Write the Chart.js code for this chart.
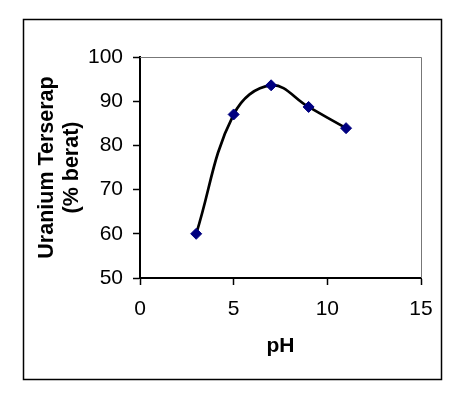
<!DOCTYPE html>
<html>
<head>
<meta charset="utf-8">
<script src="https://cdn.jsdelivr.net/npm/chart.js@4"></script>
<style>
html,body{margin:0;padding:0;background:#fff;}
#c{display:block;}
</style>
</head>
<body>
<canvas id="c" width="464" height="400"></canvas>
<script>
const phValues = [3, 5, 7, 9, 11];
const uraniumAdsorbed = [60, 87, 93.6, 88.7, 83.9];
const xTicks = [0, 5, 10, 15];
const yTicks = [50, 60, 70, 80, 90, 100];
const xTitle = 'pH';
const yTitle = ['Uranium Terserap', '(% berat)'];

const FONT = 'Arial, "Liberation Sans", sans-serif';

const framePlugin = {
  id: 'frame',
  beforeDraw(chart) {
    const ctx = chart.ctx;
    ctx.save();
    ctx.fillStyle = '#fff';
    ctx.fillRect(0, 0, chart.width, chart.height);
    ctx.restore();
  },
  afterDraw(chart) {
    const ctx = chart.ctx;
    const a = chart.chartArea;
    ctx.save();
    ctx.strokeStyle = '#000';
    ctx.lineWidth = 1.5;
    ctx.strokeRect(23.5, 19.5, 418, 360);
    ctx.strokeStyle = '#777';
    ctx.lineWidth = 1;
    ctx.beginPath();
    ctx.moveTo(a.left, a.top + 0.5);
    ctx.lineTo(a.right + 0.5, a.top + 0.5);
    ctx.lineTo(a.right + 0.5, a.bottom);
    ctx.stroke();
    ctx.restore();
  }
};

new Chart(document.getElementById('c'), {
  type: 'line',
  data: {
    datasets: [{
      data: phValues.map((x, i) => ({x: x, y: uraniumAdsorbed[i]})),
      borderColor: '#000',
      borderWidth: 2.7,
      tension: 0.4,
      pointStyle: 'rectRot',
      pointRadius: 5.5,
      pointBackgroundColor: '#000080',
      pointBorderColor: '#000080',
      pointBorderWidth: 1,
      fill: false
    }]
  },
  options: {
    responsive: false,
    animation: false,
    devicePixelRatio: 1,
    layout: {padding: {left: 0, top: 57, right: 43, bottom: 0}},
    plugins: {legend: {display: false}, tooltip: {enabled: false}},
    scales: {
      x: {
        type: 'linear',
        min: 0, max: 15,
        afterBuildTicks(s) { s.ticks = xTicks.map(v => ({value: v})); },
        afterFit(s) { s.height = 122; },
        grid: {drawOnChartArea: false, drawTicks: true, tickLength: 7, tickColor: '#000', tickWidth: 1.5},
        border: {display: true, color: '#000', width: 2},
        ticks: {color: '#000', font: {family: FONT, size: 21}, padding: 12, maxRotation: 0},
        title: {display: true, text: xTitle, color: '#000', font: {family: FONT, size: 21, weight: 'bold', lineHeight: 1.2}, padding: {top: 0, bottom: 41}}
      },
      y: {
        type: 'linear',
        min: 50, max: 100,
        afterBuildTicks(s) { s.ticks = yTicks.map(v => ({value: v})); },
        afterFit(s) { s.width = 140; },
        grid: {drawOnChartArea: false, drawTicks: true, tickLength: 7, tickColor: '#000', tickWidth: 1.5},
        border: {display: true, color: '#000', width: 2},
        ticks: {color: '#000', font: {family: FONT, size: 21}, padding: 10},
        title: {display: true, text: yTitle, color: '#000', font: {family: FONT, size: 21.5, weight: 'bold', lineHeight: '25px'}, padding: {top: 35}}
      }
    }
  },
  plugins: [framePlugin]
});
</script>
</body>
</html>
